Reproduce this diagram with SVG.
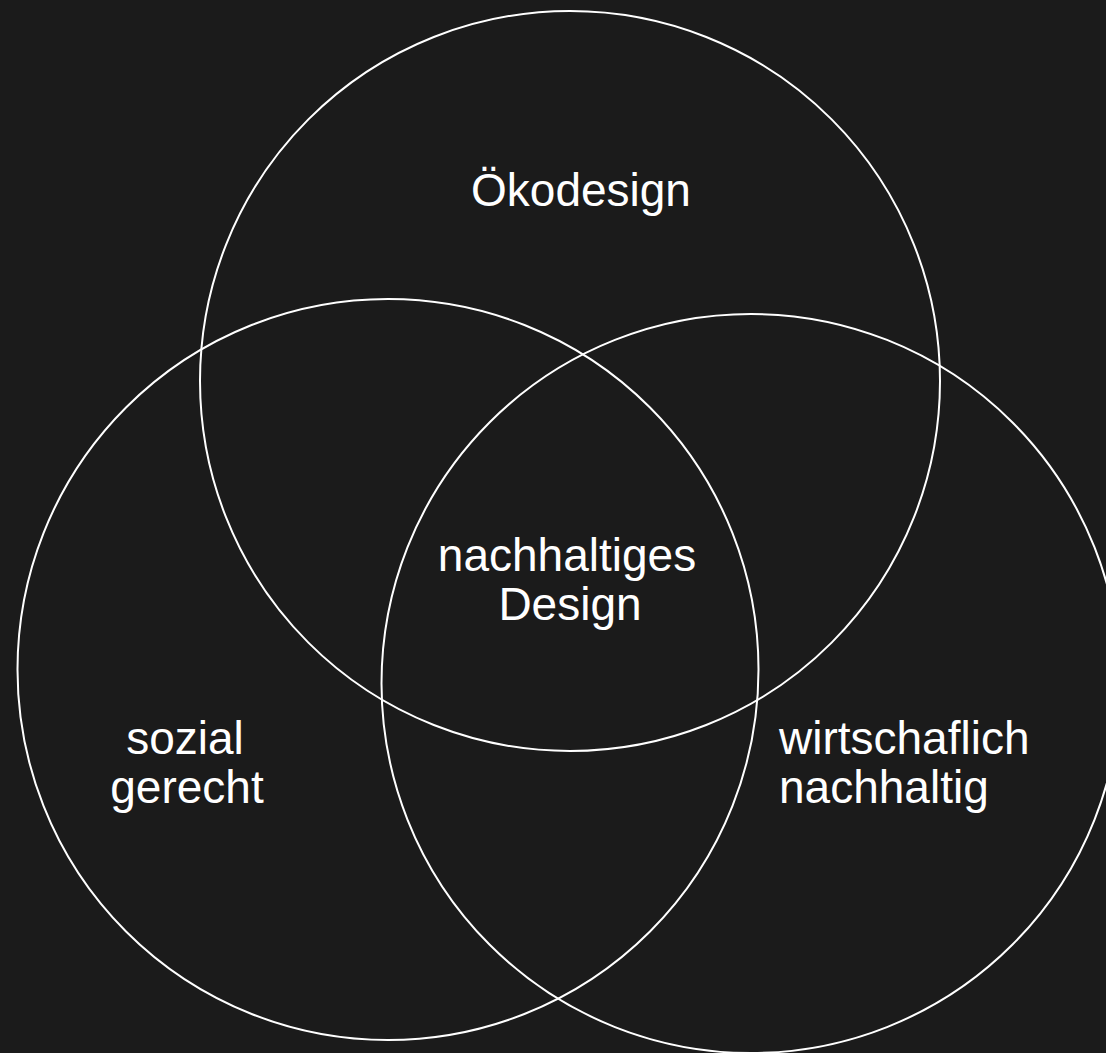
<svg xmlns="http://www.w3.org/2000/svg" width="1106" height="1053" viewBox="0 0 1106 1053">
<style>
.c{fill:none;stroke:#ffffff;stroke-width:2}
.t{font-family:"Liberation Sans",Arial,sans-serif;font-size:46px;fill:#ffffff}
.m{text-anchor:middle}
</style>
<rect width="1106" height="1053" fill="#1b1b1b"/>
<g id="oeko"><circle class="c" cx="570" cy="381" r="370"/><text class="t m" x="581" y="206">Ökodesign</text></g>
<g id="sozial"><circle class="c" cx="388" cy="669.5" r="370.5"/><text class="t m" x="185" y="754">sozial</text><text class="t m" x="187" y="803">gerecht</text></g>
<g id="wirtschaft"><circle class="c" cx="751" cy="683.5" r="369.5"/><text class="t" x="779" y="754">wirtschaflich</text><text class="t" x="779" y="803">nachhaltig</text></g>
<g id="nachhaltig"><text class="t m" x="567" y="571">nachhaltiges</text><text class="t m" x="570" y="620">Design</text></g>
<g id="connectors"/>
</svg>
